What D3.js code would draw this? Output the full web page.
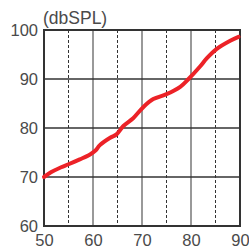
<!DOCTYPE html>
<html>
<head>
<meta charset="utf-8">
<script src="https://cdn.jsdelivr.net/npm/d3@7"></script>
<style>
  html, body { margin: 0; padding: 0; background: #fff; }
  svg { display: block; }
</style>
</head>
<body>
<svg id="chart" width="249" height="249"></svg>
<script>
// input level (x) vs output (dbSPL)
var xVals = [50, 51.5, 53.5, 55, 57.3, 59.4, 60.5, 61.4, 63.5, 64.8, 66.2, 68.2, 70.3, 72.3, 75, 77.8, 79.4, 81.8, 83.2, 85.2, 88, 89.7];
var yVals = [70, 71, 72, 72.6, 73.6, 74.6, 75.4, 76.5, 78, 78.7, 80.4, 82, 84.3, 85.9, 86.9, 88.4, 89.9, 92.5, 94.2, 96.1, 97.8, 98.6];
var xTicks = [50, 60, 70, 80, 90];
var yTicks = [60, 70, 80, 90, 100];
var xMinor = [55, 65, 75, 85];
var yUnit = "(dbSPL)";

var svg = d3.select("#chart");
var mLeft = 44, mRight = 240, mTop = 30, mBottom = 226;

var x = d3.scaleLinear().domain([50, 90]).range([mLeft, mRight]);
var y = d3.scaleLinear().domain([60, 100]).range([mBottom, mTop]);

// dashed minor verticals
svg.selectAll(".minor").data(xMinor).enter().append("line")
    .attr("x1", d => x(d)).attr("x2", d => x(d))
    .attr("y1", mTop).attr("y2", mBottom)
    .attr("stroke", "#333").attr("stroke-width", 1)
    .attr("stroke-dasharray", "3,2");

// solid verticals
svg.selectAll(".vgrid").data(xTicks.slice(1, -1)).enter().append("line")
    .attr("x1", d => x(d)).attr("x2", d => x(d))
    .attr("y1", mTop).attr("y2", mBottom)
    .attr("stroke", "#777").attr("stroke-width", 1.5);

// horizontal grid
svg.selectAll(".hgrid").data(yTicks.slice(1, -1)).enter().append("line")
    .attr("x1", mLeft).attr("x2", mRight)
    .attr("y1", d => y(d)).attr("y2", d => y(d))
    .attr("stroke", "#333").attr("stroke-width", 1.5);

// frame
svg.append("rect")
    .attr("x", mLeft).attr("y", mTop)
    .attr("width", mRight - mLeft).attr("height", mBottom - mTop)
    .attr("fill", "none").attr("stroke", "#333").attr("stroke-width", 2);

// curve
var pts = xVals.map((v, i) => [v, yVals[i]]);
svg.append("path")
    .datum(pts)
    .attr("fill", "none")
    .attr("stroke", "#ec2227")
    .attr("stroke-width", 4)
    .attr("stroke-linecap", "round")
    .attr("stroke-linejoin", "round")
    .attr("d", d3.line().x(d => x(d[0])).y(d => y(d[1])).curve(d3.curveCatmullRom));

// axes labels
var xAxis = d3.axisBottom(x).tickValues(xTicks).tickSize(0).tickPadding(8);
var gx = svg.append("g").attr("transform", "translate(0," + mBottom + ")").call(xAxis);
var yAxis = d3.axisLeft(y).tickValues(yTicks).tickSize(0).tickPadding(6);
var gy = svg.append("g").attr("transform", "translate(" + mLeft + ",0)").call(yAxis);
[gx, gy].forEach(function(g){
    g.select(".domain").remove();
    g.selectAll("text")
        .style("font-family", "Liberation Sans, Arial, sans-serif")
        .style("font-size", "16.5px")
        .attr("fill", "#4a4a4a");
});

svg.append("text")
    .attr("x", 43).attr("y", 24)
    .style("font-family", "Liberation Sans, Arial, sans-serif")
    .style("font-size", "17.5px")
    .attr("fill", "#4a4a4a")
    .text(yUnit);
</script>
</body>
</html>
